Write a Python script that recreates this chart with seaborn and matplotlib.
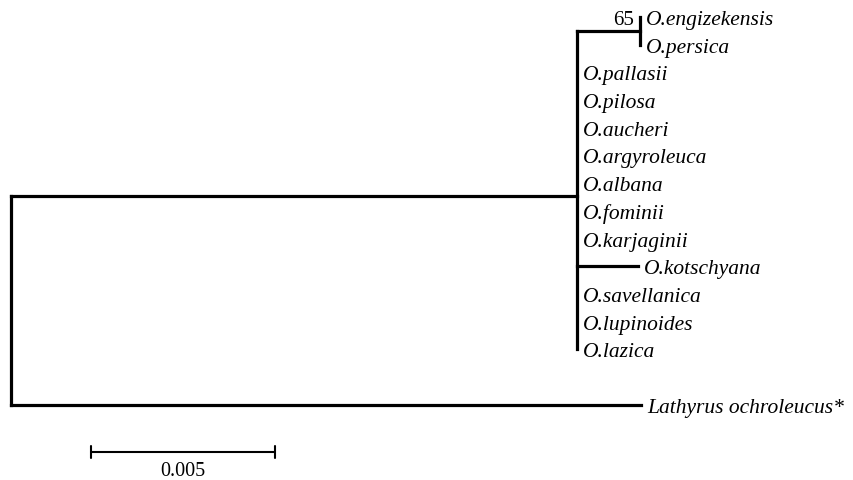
import numpy as np
import pandas as pd
import matplotlib
matplotlib.use("Agg")
import matplotlib.pyplot as plt
import seaborn as sns

# Tree topology: every node with its parent and branch length (substitutions/site)
node_names = [
    "Root", "Ingroup", "Clade1",
    "O.engizekensis", "O.persica",
    "O.pallasii", "O.pilosa", "O.aucheri", "O.argyroleuca", "O.albana",
    "O.fominii", "O.karjaginii", "O.kotschyana", "O.savellanica",
    "O.lupinoides", "O.lazica",
    "Lathyrus ochroleucus*",
]
node_parents = [
    None, "Root", "Ingroup",
    "Clade1", "Clade1",
    "Ingroup", "Ingroup", "Ingroup", "Ingroup", "Ingroup",
    "Ingroup", "Ingroup", "Ingroup", "Ingroup",
    "Ingroup", "Ingroup",
    "Root",
]
branch_lengths = [
    0.0, 0.01538, 0.00171,
    0.0, 0.0,
    0.0, 0.0, 0.0, 0.0, 0.0,
    0.0, 0.0, 0.00166, 0.0,
    0.0, 0.0,
    0.01712,
]
bootstrap_nodes = ["Clade1"]
bootstrap_values = [65]
scale_bar_length = 0.005
scale_bar_label = "0.005"

# ---- layout -------------------------------------------------------------
parent_of = dict(zip(node_names, node_parents))
length_of = dict(zip(node_names, branch_lengths))
children = {n: [c for c, p in zip(node_names, node_parents) if p == n] for n in node_names}

node_x = {}
def place_x(n, x0):
    node_x[n] = x0 + length_of[n]
    for c in children[n]:
        place_x(c, node_x[n])
place_x("Root", 0.0)

node_y = {}
row = [0]
def place_y(n):
    if not children[n]:
        if n.startswith("Lathyrus"):
            row[0] += 1  # outgroup set apart
        node_y[n] = row[0]
        row[0] += 1
        return node_y[n]
    ys = [place_y(c) for c in children[n]]
    node_y[n] = float(np.mean(ys))
    return node_y[n]
place_y("Root")

# line segments: one vertical per internal node, one horizontal per child
segs = []
sid = 0
for n in node_names:
    kids = children[n]
    if kids:
        ys = [node_y[c] for c in kids]
        segs += [(sid, node_x[n], min(ys)), (sid, node_x[n], max(ys))]
        sid += 1
    p = parent_of[n]
    if p is not None and length_of[n] > 0:
        segs += [(sid, node_x[p], node_y[n]), (sid, node_x[n], node_y[n])]
        sid += 1
seg_df = pd.DataFrame(segs, columns=["seg", "x", "y"])

# ---- drawing ------------------------------------------------------------
sns.set_theme(style="white")
plt.rcParams["font.family"] = ["Liberation Serif", "DejaVu Serif"]

W, H = 854, 481
fig = plt.figure(figsize=(W / 100, H / 100), dpi=100)
ax = fig.add_axes([0, 0, 1, 1])

px_per_unit = 184 / 0.005
x0_px = 11
row_px = 27.7
y0_px = 18
ax.set_xlim(-x0_px / px_per_unit, (W - x0_px) / px_per_unit)
ax.set_ylim((H - y0_px) / row_px, -y0_px / row_px)
ax.axis("off")

lw = 2.3
sns.lineplot(data=seg_df, x="x", y="y", units="seg", estimator=None, sort=False,
             color="black", linewidth=lw, ax=ax, legend=False,
             solid_capstyle="projecting")

dx = 6 / px_per_unit
for n in node_names:
    if not children[n]:
        ax.text(node_x[n] + dx, node_y[n], n, fontsize=15.5, style="italic",
                ha="left", va="center_baseline", color="black")

for n, v in zip(bootstrap_nodes, bootstrap_values):
    ys = [node_y[c] for c in children[n]]
    ax.text(node_x[n] - dx, min(ys), str(v), fontsize=15,
            ha="right", va="center_baseline", color="black")

# scale bar
sb_x0 = (91 - x0_px) / px_per_unit
sb_y = (453 - y0_px) / row_px
tick = 6 / row_px
ax.plot([sb_x0, sb_x0 + scale_bar_length], [sb_y, sb_y], color="black", lw=1.5)
for xx in (sb_x0, sb_x0 + scale_bar_length):
    ax.plot([xx, xx], [sb_y - tick, sb_y + tick], color="black", lw=1.5)
ax.text(sb_x0 + scale_bar_length / 2, sb_y + 18 / row_px, scale_bar_label,
        fontsize=14.5, ha="center", va="center", color="black")

fig.savefig("out.png", dpi=100, facecolor="white")
